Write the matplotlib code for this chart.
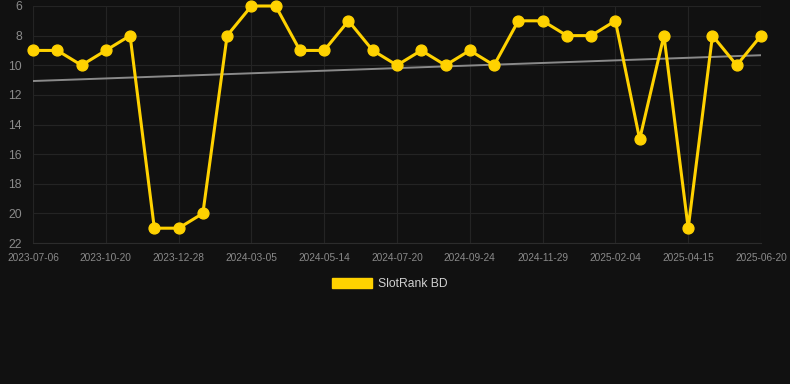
import numpy as np
import matplotlib

matplotlib.use("Agg")
import matplotlib.pyplot as plt
from matplotlib.patches import Patch


# ----------------------------------------------------------------------
# Data (rank per snapshot, lower is better)
# ----------------------------------------------------------------------
ranks = [
    9, 9, 10, 9, 8, 21, 21, 20, 8, 6, 6, 9, 9, 7, 9, 10,
    9, 10, 9, 10, 7, 7, 8, 8, 7, 15, 8, 21, 8, 10, 8,
]
tick_labels = [
    "2023-07-06", "2023-10-20", "2023-12-28", "2024-03-05",
    "2024-05-14", "2024-07-20", "2024-09-24", "2024-11-29",
    "2025-02-04", "2025-04-15", "2025-06-20",
]
series_name = "SlotRank BD"

BG = "#111111"
GOLD = "#ffd200"


def main() -> None:
    plt.rcParams["font.family"] = ["Liberation Sans", "DejaVu Sans"]

    x = np.arange(len(ranks))
    y = np.array(ranks, dtype=float)

    # linear trend
    slope, intercept = np.polyfit(x, y, 1)
    trend = slope * x + intercept

    fig = plt.figure(figsize=(7.9, 3.84), dpi=100, facecolor=BG)
    ax = fig.add_axes([33 / 790, 1 - 243 / 384, (761 - 33) / 790, (243 - 6) / 384])
    ax.set_facecolor(BG)

    ax.plot(x, trend, color="#8a8a8a", linewidth=1.4, zorder=2)
    ax.plot(
        x,
        y,
        color=GOLD,
        linewidth=2.2,
        marker="o",
        markersize=7.8,
        clip_on=False,
        zorder=3,
    )

    ax.set_xlim(0, len(ranks) - 1)
    ax.set_ylim(22, 6)
    ax.set_yticks(range(6, 23, 2))
    ax.set_xticks(x[::3])
    ax.set_xticklabels(tick_labels)

    ax.grid(True, color="#242424", linewidth=0.8)
    for side in ("top", "right", "left"):
        ax.spines[side].set_visible(False)
    ax.spines["bottom"].set_color("#2c2c2c")

    ax.tick_params(axis="x", colors="#8a8a8a", labelsize=7.3, length=0, pad=7)
    ax.tick_params(axis="y", colors="#8a8a8a", labelsize=8.8, length=0, pad=8)

    handle = Patch(facecolor=GOLD, edgecolor=GOLD)
    fig.legend(
        [handle],
        [series_name],
        loc="center",
        bbox_to_anchor=(0.5 - 5 / 790, 1 - 284 / 384),
        frameon=False,
        fontsize=8.7,
        labelcolor="#d0d0d0",
        handlelength=3.3,
        handleheight=0.9,
        handletextpad=0.5,
    )

    fig.savefig("out.png", dpi=100, facecolor=BG)
    plt.close(fig)


if __name__ == "__main__":
    main()
